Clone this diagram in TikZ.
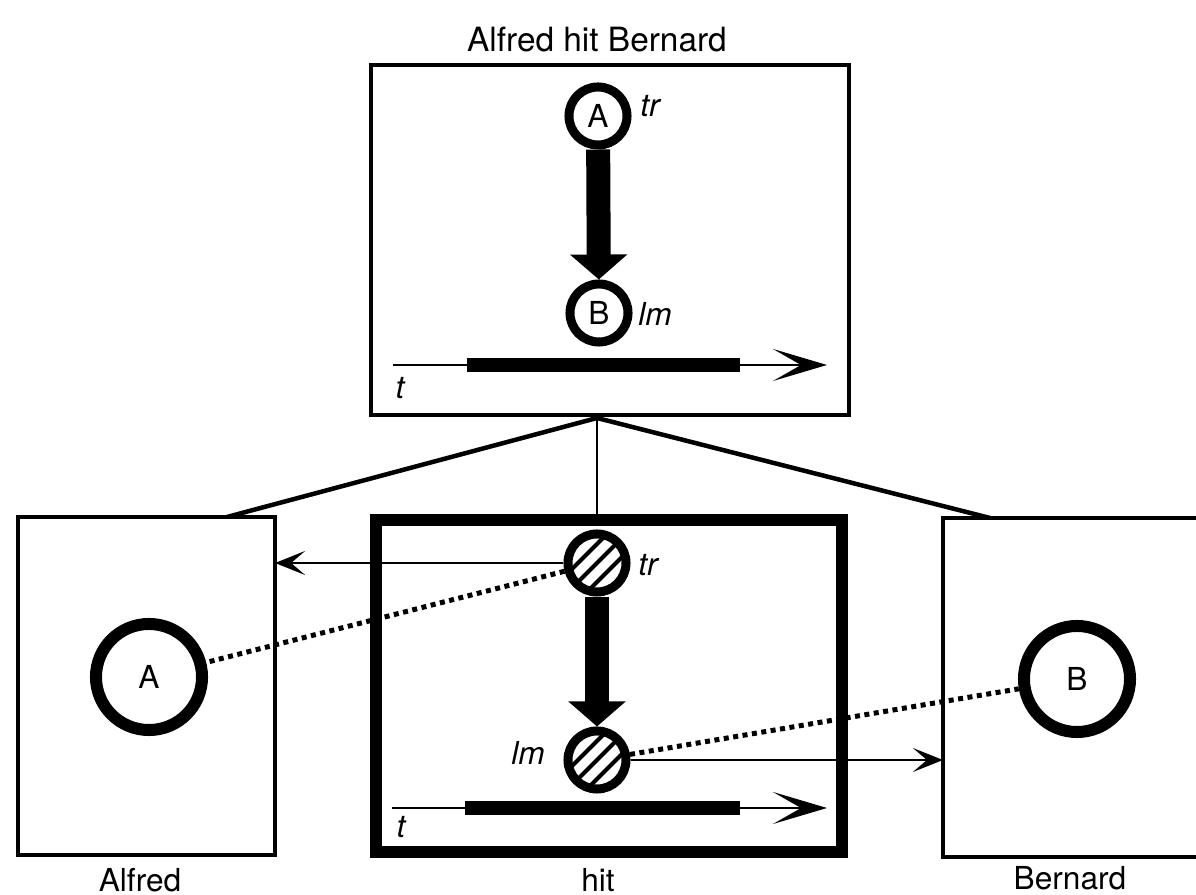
\documentclass[tikz,border=0pt]{standalone}
\usepackage{fontspec}
\setmainfont{TeX Gyre Heros}
\usepackage{tikz}
\usetikzlibrary{arrows.meta}
\tikzstyle{every node}=[inner sep=0pt,font=\fontsize{9}{11}\selectfont]
\tikzstyle{framebox}=[draw,line width=0.04cm,outer sep=0pt]
\tikzstyle{rolecirc}=[draw,circle,line width=0.09cm,minimum size=0.58cm]
\tikzstyle{entcirc}=[draw,circle,line width=0.12cm,minimum size=1.06cm]
\tikzstyle{hatched}=[path picture={
    \foreach \k in {-9.5,0,9.5}
      \draw[line width=0.04cm]
        ([shift={(\k-30,\k+30)}]path picture bounding box.center) --
        ([shift={(\k+30,\k-30)}]path picture bounding box.center);}]
\tikzstyle{thrust}=[line width=0.24cm,-{Triangle[width=0.56cm,length=0.25cm]}]
\tikzstyle{timeline}=[line width=0.025cm,-{Stealth[length=0.54cm,width=0.32cm,inset=0.28cm]}]
\tikzstyle{span}=[line width=0.14cm]
\tikzstyle{dotlink}=[line width=0.05cm,dash pattern=on 0.05cm off 0.045cm]
\tikzstyle{reflink}=[line width=0.02cm,-{Stealth[length=0.3cm,width=0.24cm,inset=0.14cm]}]
\newcommand{\itf}{\itshape}

\begin{document}
\begin{tikzpicture}[x=0.01cm,y=-0.01cm]
  \useasboundingbox (0,0) rectangle (1196,895);
  \clip (0,0) rectangle (1196,895);

  % the whole event
  \node[framebox,minimum width=4.78cm,minimum height=3.5cm] (whole) at (610,240) {};
  \node (title) at (597,40) {\fontsize{9.5}{11}\selectfont Alfred hit Bernard};
  \node[rolecirc] (wa) at (598,116) {A};
  \node[rolecirc] (wb) at (599,313) {B};
  \node (wtr) at (650,106) {\itf tr};
  \node (wlm) at (655,314) {\itf lm};
  \draw[thrust] (wa) -- (wb);
  \coordinate (wt0) at (393,365);
  \coordinate (wt1) at (827,365);
  \coordinate (ws0) at (467,365);
  \coordinate (ws1) at (740,365);
  \draw[timeline] (wt0) -- (wt1);
  \draw[span] (ws0) -- (ws1);
  \node (wt) at (400,388) {\itf t};

  % component structures
  \node[framebox,minimum width=2.57cm,minimum height=3.38cm] (alfred) at (146.5,686) {};
  \node[entcirc] (ea) at (149,677) {A};
  \node (alab) at (140,880) {Alfred};

  \node[framebox,minimum width=2.68cm,minimum height=3.39cm] (bernard) at (1077,687.5) {};
  \node[entcirc] (eb) at (1077,679) {B};
  \node (blab) at (1070,878) {Bernard};

  \node[framebox,line width=0.12cm,minimum width=4.66cm,minimum height=3.32cm] (hit) at (609,686) {};
  \node (hlab) at (598,880) {hit};
  \node[rolecirc,hatched] (htr) at (597,563) {};
  \node[rolecirc,hatched] (hlm) at (597,760) {};
  \node (htrl) at (648,565) {\itf tr};
  \node (hlml) at (528,753) {\itf lm};
  \draw[thrust] (htr) -- (hlm);
  \coordinate (ht0) at (392,808);
  \coordinate (ht1) at (827,808);
  \coordinate (hs0) at (465,808);
  \coordinate (hs1) at (740,808);
  \draw[timeline] (ht0) -- (ht1);
  \draw[span] (hs0) -- (hs1);
  \node (ht) at (401,827) {\itf t};

  % composition
  \coordinate (join) at (597,418);
  \coordinate (aj) at (227,517);
  \coordinate (bj) at (990,518);
  \draw[line width=0.045cm] (join) -- (aj);
  \draw[line width=0.045cm] (join) -- (bj);
  \draw[line width=0.02cm] (join) -- (join |- hit.north);

  % correspondences
  \draw[reflink] (htr.west) -- (htr.west -| alfred.east);
  \draw[reflink] (hlm.east) -- (hlm.east -| bernard.west);
  \draw[dotlink] (htr) -- (ea);
  \draw[dotlink] (hlm) -- (eb);
\end{tikzpicture}
\end{document}
